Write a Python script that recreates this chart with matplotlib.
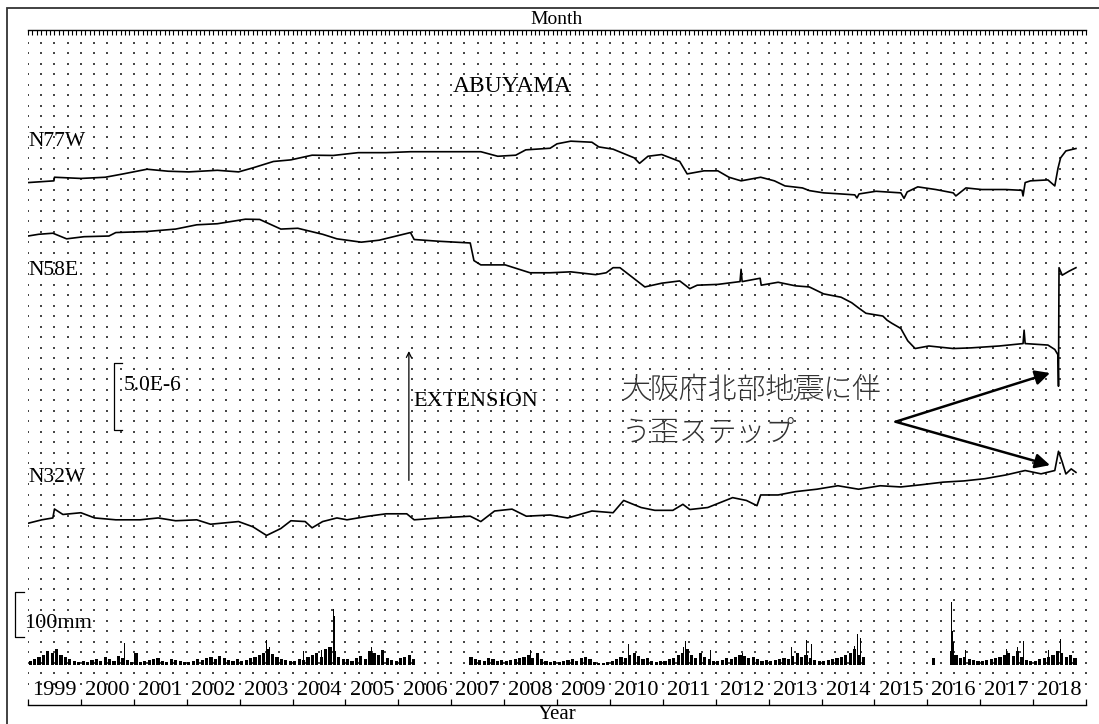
import numpy as np
import matplotlib
matplotlib.use('Agg')
import matplotlib.pyplot as plt
from matplotlib.ticker import MultipleLocator
from matplotlib.patches import Rectangle

plt.rcParams['font.family'] = ['Liberation Serif', 'DejaVu Sans']

years = list(range(1999, 2019))

# strain change (1e-6, extension up)
n77w_t = [1999.00, 1999.49, 1999.50, 2000.00, 2000.46, 2000.80, 2001.25, 2001.65, 2002.04, 2002.58,
          2002.98, 2003.25, 2003.64, 2003.97, 2004.37, 2004.77, 2005.24, 2005.77, 2006.23, 2007.56,
          2007.88, 2008.22, 2008.41, 2008.87, 2009.00, 2009.26, 2009.66, 2009.79, 2010.06, 2010.46,
          2010.56, 2010.72, 2010.98, 2011.32, 2011.46, 2011.78, 2012.04, 2012.25, 2012.48, 2012.85,
          2013.11, 2013.31, 2013.64, 2013.77, 2014.04, 2014.37, 2014.63, 2014.67, 2014.71, 2015.03,
          2015.50, 2015.56, 2015.62, 2015.82, 2016.16, 2016.49, 2016.54, 2016.73, 2017.03, 2017.49,
          2017.79, 2017.81, 2017.85, 2017.95, 2018.28, 2018.41, 2018.47, 2018.52, 2018.62, 2018.81]
n77w_v = [0.00, 0.13, 0.40, 0.31, 0.40, 0.65, 1.00, 0.85, 0.80, 0.92,
          0.80, 1.10, 1.58, 1.70, 2.05, 2.03, 2.24, 2.24, 2.31, 2.31,
          1.97, 2.05, 2.45, 2.57, 2.90, 3.10, 3.02, 2.67, 2.50, 1.85,
          1.44, 1.97, 2.10, 1.58, 0.65, 0.88, 0.88, 0.40, 0.13, 0.40,
          0.13, -0.25, -0.40, -0.60, -0.77, -0.85, -0.92, -1.15, -0.85, -0.65,
          -0.77, -1.18, -0.70, -0.32, -0.52, -0.77, -1.00, -0.40, -0.52, -0.52,
          -0.58, -1.00, 0.00, 0.13, 0.20, -0.25, 1.06, 1.85, 2.37, 2.55]

n58e_t = [1999.00, 1999.20, 1999.47, 1999.73, 2000.06, 2000.53, 2000.66, 2001.25, 2001.79, 2002.19,
          2002.58, 2003.11, 2003.38, 2003.78, 2004.10, 2004.57, 2004.84, 2005.30, 2005.64, 2006.23,
          2006.30, 2006.76, 2007.36, 2007.43, 2007.56, 2008.02, 2008.49, 2008.87, 2009.26, 2009.73,
          2009.93, 2010.06, 2010.19, 2010.53, 2010.66, 2010.98, 2011.32, 2011.51, 2011.65, 2012.04,
          2012.46, 2012.48, 2012.50, 2012.84, 2012.86, 2013.18, 2013.51, 2013.77, 2014.04, 2014.37,
          2014.57, 2014.70, 2014.84, 2015.16, 2015.24, 2015.33, 2015.50, 2015.63, 2015.77, 2016.03,
          2016.49, 2016.83, 2017.36, 2017.81, 2017.83, 2017.85, 2018.28, 2018.41, 2018.47, 2018.48,
          2018.49, 2018.55, 2018.68, 2018.81]
n58e_v = [0.00, 0.13, 0.21, -0.21, -0.05, 0.00, 0.26, 0.34, 0.52, 0.84,
          0.92, 1.26, 1.24, 0.52, 0.58, 0.13, -0.21, -0.46, -0.31, 0.26,
          -0.26, -0.39, -0.52, -1.84, -2.16, -2.16, -2.75, -2.75, -2.68, -2.89,
          -2.75, -2.37, -2.37, -3.41, -3.81, -3.53, -3.36, -3.94, -3.68, -3.62,
          -3.41, -2.49, -3.41, -3.16, -3.68, -3.46, -3.73, -3.81, -4.33, -4.58,
          -4.99, -5.38, -5.78, -5.99, -6.30, -6.53, -6.92, -7.84, -8.42, -8.23,
          -8.42, -8.37, -8.23, -8.05, -7.05, -8.05, -8.16, -8.49, -8.89, -11.24,
          -2.37, -2.93, -2.63, -2.37]

n32w_t = [1999.00, 1999.26, 1999.47, 1999.50, 1999.66, 2000.00, 2000.26, 2000.66, 2001.12, 2001.46,
          2001.79, 2002.19, 2002.45, 2002.98, 2003.25, 2003.51, 2003.78, 2003.97, 2004.24, 2004.37,
          2004.57, 2004.84, 2005.03, 2005.43, 2005.77, 2006.16, 2006.30, 2006.76, 2007.36, 2007.56,
          2007.82, 2008.15, 2008.42, 2008.87, 2009.20, 2009.66, 2010.06, 2010.26, 2010.59, 2010.85,
          2011.19, 2011.38, 2011.51, 2011.85, 2012.32, 2012.58, 2012.78, 2012.85, 2013.18, 2013.51,
          2013.91, 2014.31, 2014.70, 2015.11, 2015.50, 2015.90, 2016.30, 2016.69, 2017.09, 2017.49,
          2017.85, 2018.15, 2018.41, 2018.48, 2018.55, 2018.62, 2018.72, 2018.81]
n32w_v = [0.00, 0.26, 0.40, 1.07, 0.66, 0.79, 0.40, 0.26, 0.26, 0.40,
          0.19, 0.26, -0.07, 0.13, -0.26, -0.91, -0.39, 0.19, 0.13, -0.34,
          0.13, 0.40, 0.26, 0.53, 0.71, 0.71, 0.26, 0.40, 0.53, 0.13,
          0.92, 1.06, 0.53, 0.62, 0.40, 0.92, 0.79, 1.71, 1.18, 0.97,
          0.97, 1.42, 1.03, 1.18, 1.92, 1.71, 1.32, 2.12, 2.12, 2.37,
          2.55, 2.81, 2.55, 2.81, 2.72, 2.89, 3.08, 3.17, 3.34, 3.62,
          3.95, 3.70, 3.95, 5.39, 4.59, 3.69, 4.07, 3.81]

nan = np.nan
# monthly rainfall background (mm), Jan 1999 .. Dec 2018
rain_mm = [
    9, 13, 18, 22, 31, 26, 35, 22, 18, 13, 9, 7,
    8, 6, 11, 13, 9, 18, 13, 9, 20, 15, 11, 7,
    26, 7, 9, 11, 13, 15, 9, 7, 13, 11, 9, 7,
    7, 9, 13, 11, 15, 18, 13, 20, 15, 11, 9, 13,
    9, 11, 15, 18, 22, 26, 35, 24, 18, 13, 11, 9,
    9, 13, 11, 18, 22, 26, 18, 35, 40, 30, 18, 13,
    13, 9, 15, 20, 13, 30, 26, 22, 33, 15, 11, 9,
    15, 18, 22, 13, nan, nan, nan, nan, nan, nan, nan, nan,
    nan, nan, nan, nan, 18, 13, 11, 9, 15, 13, 9, 11,
    9, 11, 13, 15, 18, 22, 15, 26, 13, 9, 7, 9,
    7, 9, 11, 13, 9, 15, 18, 13, 7, 4, 4, 7,
    9, 13, 18, 15, 22, 26, 20, 13, 15, 9, 7, 9,
    9, 13, 15, 22, 26, 35, 22, 15, 26, 18, 13, 9,
    9, 11, 15, 13, 18, 22, 20, 15, 18, 13, 9, 11,
    9, 11, 13, 15, 13, 20, 26, 18, 22, 15, 11, 9,
    9, 11, 13, 15, 18, 22, 26, 35, 22, 18, nan, nan,
    nan, nan, nan, nan, nan, nan, nan, nan, nan, nan, nan, nan,
    nan, 15, nan, nan, nan, 30, 22, 15, 18, 13, 11, 9,
    9, 11, 13, 15, 18, 22, 26, 20, 30, 18, 11, 9,
    9, 13, 15, 18, 22, 30, 26, 18, 22, 15, nan, nan,
]
# heavy-rain days
spike_t = [2000.83, 2001.02, 2003.50, 2003.56, 2004.20, 2004.55, 2004.70, 2004.77, 2004.79, 2005.50,
           2005.73, 2008.50, 2010.36, 2011.40, 2011.43, 2011.90, 2012.50, 2013.44, 2013.71, 2013.81,
           2014.63, 2014.68, 2014.74, 2016.46, 2016.48, 2016.50, 2016.72, 2017.50, 2017.70, 2017.82,
           2018.30, 2018.49, 2018.51]
spike_mm = [48, 26, 56, 40, 30, 33, 40, 125, 108, 40,
            38, 33, 46, 40, 53, 33, 27, 40, 55, 46,
            42, 68, 59, 139, 75, 50, 33, 35, 40, 53,
            33, 98, 57]

# vertical placement of the traces
base_n77w = 39.1
base_n58e = 35.1
base_n32w = 13.6

W, H = 1099, 724
fig = plt.figure(figsize=(W / 100, H / 100), dpi=100)
rect = [28 / W, 19 / H, 1058 / W, 675 / H]
ax = fig.add_axes(rect)
ax.set_xlim(1999, 2019)
ax.set_ylim(0, 50.52)

# outer frame (clipped at right / bottom)
fig.patches.append(Rectangle((7 / W, -0.1), 1.2, (H - 8) / H + 0.1, transform=fig.transFigure,
                             fill=False, lw=1.3, ec='#333333'))

# dotted grid
gx, gy = np.meshgrid(np.arange(1999, 2019.01, 0.25), np.arange(49.55, 1.0, -0.786))
ax.plot(gx.ravel(), gy.ravel(), ls='none', marker='|', ms=1.5, mew=1.1, color='#111111')

ax.plot(n77w_t, np.array(n77w_v) + base_n77w, color='black', lw=1.2)
ax.plot(n58e_t, np.array(n58e_v) + base_n58e, color='black', lw=1.2)
ax.plot(n32w_t, np.array(n32w_v) + base_n32w, color='black', lw=1.2)

fs = 16
ax.text(1999.0, 42.2, 'N77W', fontsize=15.5, va='center')
ax.text(1999.0, 32.55, 'N58E', fontsize=15.5, va='center')
ax.text(1999.0, 17.0, 'N32W', fontsize=15.5, va='center')
ax.text(2008.15, 46.3, 'ABUYAMA', fontsize=17, ha='center', va='center')

# scale bar for strain
sx, stop = 2000.63, 25.6
ax.plot([sx + 0.15, sx, sx, sx + 0.15], [stop, stop, stop - 5, stop - 5], color='black', lw=0.9)
ax.text(sx + 0.17, 23.9, '5.0E-6', fontsize=15.5, va='center')

# extension arrow
ax.annotate('', xy=(2006.2, 26.7), xytext=(2006.2, 16.6),
            arrowprops=dict(arrowstyle='->', lw=0.9, color='black', mutation_scale=9))
ax.text(2006.28, 22.7, 'EXTENSION', fontsize=16, va='center')

# earthquake note
ax.text(2010.23, 22.0, '大阪府北部地震に伴\nう歪ステップ', fontsize=20.8, va='center',
        linespacing=1.5, color='#333333', family=['Noto Sans CJK JP', 'DejaVu Sans'],
        fontweight='light')
for tip in [(2018.32, 24.85), (2018.32, 17.95)]:
    ax.annotate('', xy=tip, xytext=(2015.40, 21.2),
                arrowprops=dict(arrowstyle='-|>', lw=1.8, color='black', mutation_scale=22,
                                shrinkA=0, shrinkB=0))

# year labels between the year ticks
for yr in years:
    ax.text(yr + 0.5, 1.12, str(yr), fontsize=fs, ha='center', va='center')

for side in ['left', 'right', 'top']:
    ax.spines[side].set_visible(False)
ax.spines['bottom'].set_linewidth(1.0)
ax.xaxis.set_major_locator(MultipleLocator(1))
ax.tick_params(axis='x', direction='in', length=4.5, width=0.9, labelbottom=False)
ax.set_yticks([])
ax.set_xlabel('Year', fontsize=15, labelpad=0)

secax = ax.secondary_xaxis('top')
secax.xaxis.set_major_locator(MultipleLocator(1 / 12))
secax.tick_params(direction='in', length=3.6, width=0.8, labeltop=False)
secax.spines['top'].set_linewidth(1.0)
secax.set_xlabel('Month', fontsize=14, labelpad=4)

# rainfall on its own scale (100 mm ~ 45 px)
axr = fig.add_axes(rect, sharex=ax)
axr.set_ylim(-88.9, 1411)
axr.axis('off')
month_t = np.arange(1999, 2019, 1 / 12) + 1 / 24
axr.bar(month_t, rain_mm, width=0.06, color='black', lw=0)
axr.bar(spike_t, spike_mm, width=0.018, color='black', lw=0)
bx = 1998.75
axr.plot([bx + 0.17, bx, bx, bx + 0.17], [162, 162, 62, 62], color='black', lw=0.9, clip_on=False)
axr.text(1998.92, 93, '100mm', fontsize=16, va='center', clip_on=False)

fig.savefig('out.png', dpi=100)
